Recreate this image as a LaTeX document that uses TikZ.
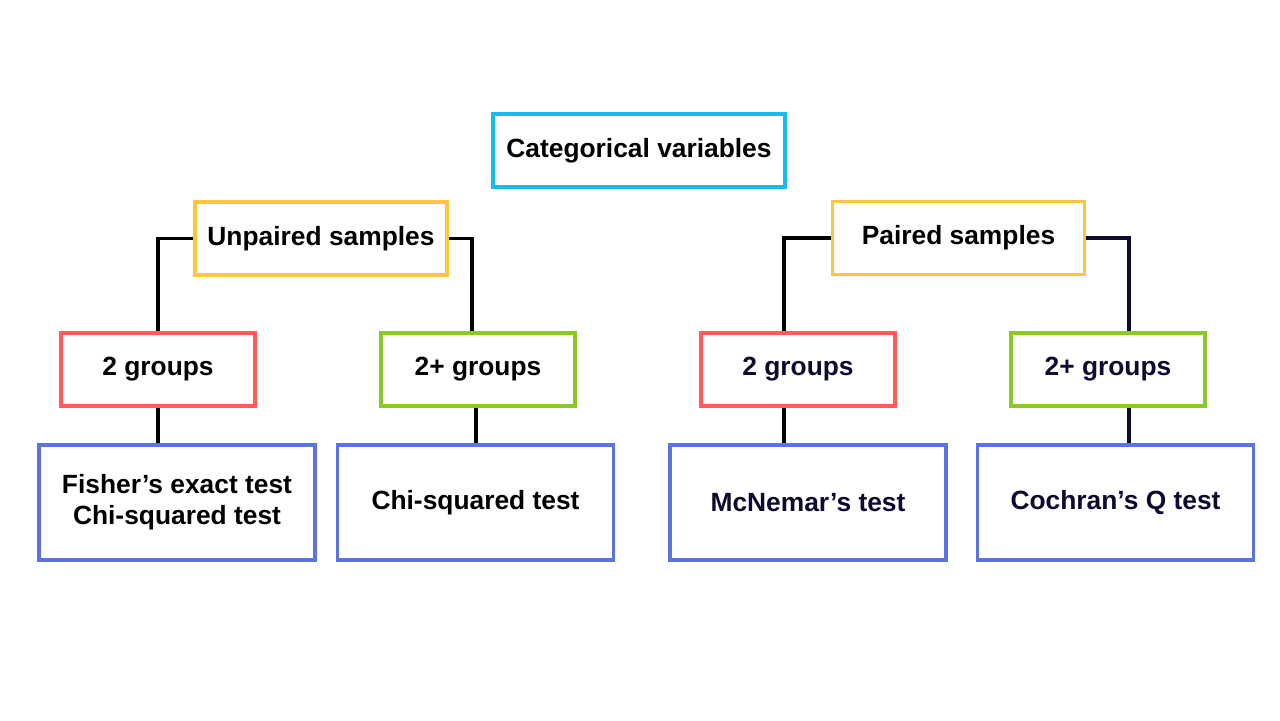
\documentclass[tikz,border=0pt]{standalone}
\usepackage{fontspec}
\setmainfont{Liberation Sans}
\usetikzlibrary{positioning,calc}
\definecolor{ctcyan}{RGB}{20,188,240}
\definecolor{ctyellow}{RGB}{255,198,58}
\definecolor{ctred}{RGB}{255,92,92}
\definecolor{ctgreen}{RGB}{138,200,42}
\definecolor{ctblue}{RGB}{92,116,226}
\definecolor{ctnavy}{RGB}{12,10,46}
\tikzset{
  ctbox/.style={
    draw, line width=2pt, fill=white, align=center, inner sep=0pt,
    font=\bfseries\fontsize{15}{17.6}\selectfont, minimum height=14.6mm
  },
  root/.style={ctbox, draw=ctcyan, minimum width=58.4mm},
  kind/.style={ctbox, draw=ctyellow, minimum width=50.4mm},
  two/.style={ctbox, draw=ctred, minimum width=38.8mm},
  many/.style={ctbox, draw=ctgreen, minimum width=38.8mm},
  test/.style={ctbox, draw=ctblue, minimum width=55.2mm, minimum height=23mm},
  link/.style={draw=black, line width=2.1pt},
  navy/.style={text=ctnavy}
}
\begin{document}
\begin{tikzpicture}
  \useasboundingbox (0,0) rectangle (25.6,14.4);
  \node[root] (cat) at (12.78,11.39) {Categorical variables};
  % unpaired branch
  \node[kind] (unp) at (6.42,9.63) {Unpaired samples};
  \node[two]  (u2) at (3.16,7.01) {2 groups};
  \node[many] (um) at (9.56,7.01) {2+ groups};
  \node[test] (ut2) at (3.54,4.35) {Fisher’s exact test\\Chi-squared test};
  \node[test] (utm) at (9.51,4.35) {Chi-squared test};
  % paired branch
  \node[kind] (pai) at (19.17,9.64) {Paired samples};
  \node[two, navy]  (p2) at (15.96,7.01) {2 groups};
  \node[many, navy] (pm) at (22.16,7.01) {2+ groups};
  \node[test, navy] (pt2) at (16.16,4.35) {McNemar’s test};
  \node[test, navy] (ptm) at (22.31,4.35) {Cochran’s Q test};
  \coordinate (p2top) at ([xshift=-2.8mm]p2.north);
  \coordinate (p2bot) at ([xshift=-2.8mm]p2.south);
  \coordinate (pmtop) at ([xshift=4.2mm]pm.north);
  \coordinate (pmbot) at ([xshift=4.2mm]pm.south);
  \draw[link] (unp.west) -| (u2.north);
  \draw[link] (unp.east) -| ([xshift=-1.2mm]um.north);
  \draw[link] (pai.west) -| (p2top);
  \draw[link, draw=ctnavy] (pai.east) -| (pmtop);
  \draw[link] (u2.south) -- (u2.south |- ut2.north);
  \draw[link] ([xshift=-0.4mm]um.south) -- ([xshift=-0.4mm]um.south |- utm.north);
  \draw[link] (p2bot) -- (p2bot |- pt2.north);
  \draw[link, draw=ctnavy] (pmbot) -- (pmbot |- ptm.north);
\end{tikzpicture}
\end{document}
